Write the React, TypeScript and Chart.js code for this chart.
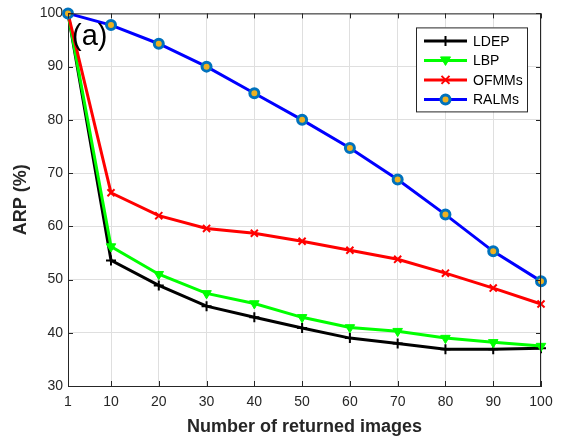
import React, { useEffect, useRef } from "react";
import { Chart, registerables } from "chart.js";

Chart.register(...registerables);

// Retrieval precision (ARP, %) against number of returned images
const returnedImages = [1, 10, 20, 30, 40, 50, 60, 70, 80, 90, 100];
const ldep = [100, 53.6, 48.9, 45.0, 42.9, 40.9, 39.0, 38.0, 36.9, 36.9, 37.1];
const lbp = [100, 56.2, 51.0, 47.4, 45.5, 42.9, 41.0, 40.3, 39.0, 38.2, 37.5];
const ofmms = [100, 66.3, 62.0, 59.6, 58.7, 57.2, 55.5, 53.8, 51.2, 48.4, 45.4];
const ralms = [100, 97.8, 94.3, 90.0, 85.0, 80.0, 74.7, 68.8, 62.2, 55.3, 49.7];
const yTicks = [30, 40, 50, 60, 70, 80, 90, 100];
const seriesNames = ["LDEP", "LBP", "OFMMs", "RALMs"];

const FONT = "'Liberation Sans', Arial, Helvetica, sans-serif";
const AXIS_COLOR = "#262626";

type MarkerKind = "plus" | "x" | "tri" | "circle";

interface SeriesStyle {
  line: string;
  marker: MarkerKind;
  fill: string;
  edge: string;
}

const styles: SeriesStyle[] = [
  { line: "#000000", marker: "plus", fill: "#000000", edge: "#000000" },
  { line: "#00ff00", marker: "tri", fill: "#00ff00", edge: "#00ff00" },
  { line: "#ff0000", marker: "x", fill: "#ff0000", edge: "#ff0000" },
  { line: "#0000ff", marker: "circle", fill: "#EDB120", edge: "#0072BD" },
];

function drawMarker(ctx: CanvasRenderingContext2D, kind: MarkerKind, x: number, y: number, s: SeriesStyle) {
  ctx.save();
  ctx.strokeStyle = s.edge;
  ctx.fillStyle = s.fill;
  if (kind === "plus") {
    ctx.lineWidth = 2;
    ctx.beginPath();
    ctx.moveTo(x - 5, y);
    ctx.lineTo(x + 5, y);
    ctx.moveTo(x, y - 5);
    ctx.lineTo(x, y + 5);
    ctx.stroke();
  } else if (kind === "x") {
    ctx.lineWidth = 2;
    ctx.beginPath();
    ctx.moveTo(x - 4, y - 4);
    ctx.lineTo(x + 4, y + 4);
    ctx.moveTo(x - 4, y + 4);
    ctx.lineTo(x + 4, y - 4);
    ctx.stroke();
  } else if (kind === "tri") {
    ctx.lineWidth = 1;
    ctx.beginPath();
    ctx.moveTo(x - 5, y - 3.5);
    ctx.lineTo(x + 5, y - 3.5);
    ctx.lineTo(x, y + 5);
    ctx.closePath();
    ctx.fill();
    ctx.stroke();
  } else {
    ctx.lineWidth = 3;
    ctx.beginPath();
    ctx.arc(x, y, 4.5, 0, Math.PI * 2);
    ctx.fill();
    ctx.stroke();
  }
  ctx.restore();
}

const framePlugin = {
  id: "frameAndLegend",
  afterDraw(chart: any) {
    const { ctx, chartArea } = chart;
    const { left, right, top, bottom } = chartArea;
    const xs = chart.scales.x;
    const ys = chart.scales.y;

    ctx.save();
    // box outline and inward tick marks
    ctx.strokeStyle = AXIS_COLOR;
    ctx.lineWidth = 1;
    ctx.beginPath();
    ctx.moveTo(left, top + 0.5);
    ctx.lineTo(right, top + 0.5);
    ctx.moveTo(right - 0.5, top);
    ctx.lineTo(right - 0.5, bottom);
    for (const v of returnedImages) {
      const px = Math.round(xs.getPixelForValue(v)) + 0.5;
      ctx.moveTo(px, bottom);
      ctx.lineTo(px, bottom - 5);
      ctx.moveTo(px, top);
      ctx.lineTo(px, top + 5);
    }
    for (const v of yTicks) {
      const py = Math.round(ys.getPixelForValue(v)) + 0.5;
      ctx.moveTo(left, py);
      ctx.lineTo(left + 5, py);
      ctx.moveTo(right, py);
      ctx.lineTo(right - 5, py);
    }
    ctx.stroke();

    // panel label
    ctx.fillStyle = "#000000";
    ctx.font = `29px ${FONT}`;
    ctx.textBaseline = "alphabetic";
    ctx.textAlign = "left";
    ctx.fillText("(a)", left + 4, top + 32);

    // legend box
    const bx = right - 125;
    const by = top + 14;
    const bw = 111;
    const bh = 84;
    ctx.fillStyle = "#ffffff";
    ctx.fillRect(bx, by, bw, bh);
    ctx.strokeStyle = AXIS_COLOR;
    ctx.lineWidth = 1;
    ctx.strokeRect(bx + 0.5, by + 0.5, bw, bh);

    ctx.font = `14px ${FONT}`;
    ctx.textBaseline = "middle";
    seriesNames.forEach((name, i) => {
      const s = styles[i];
      const ry = by + 13.5 + i * 19.5;
      ctx.strokeStyle = s.line;
      ctx.lineWidth = 3;
      ctx.beginPath();
      ctx.moveTo(bx + 8, ry);
      ctx.lineTo(bx + 51, ry);
      ctx.stroke();
      drawMarker(ctx, s.marker, bx + 29.5, ry, s);
      ctx.fillStyle = "#000000";
      ctx.fillText(name, bx + 57, ry + 1);
    });
    ctx.restore();
  },
};

export default function App() {
  const canvasRef = useRef<HTMLCanvasElement | null>(null);

  useEffect(() => {
    if (!canvasRef.current) return;
    const seriesValues = [ldep, lbp, ofmms, ralms];
    const pointStyles = ["cross", "triangle", "crossRot", "circle"];

    const datasets = seriesValues.map((vals, i) => {
      const s = styles[i];
      const isCircle = s.marker === "circle";
      return {
        label: seriesNames[i],
        data: returnedImages.map((x, k) => ({ x, y: vals[k] })),
        borderColor: s.line,
        borderWidth: 3,
        backgroundColor: s.fill,
        pointStyle: pointStyles[i],
        pointRadius: isCircle ? 4.5 : s.marker === "tri" ? 5.5 : 5,
        pointRotation: s.marker === "tri" ? 180 : 0,
        pointBorderColor: s.edge,
        pointBackgroundColor: s.fill,
        pointBorderWidth: isCircle ? 3 : s.marker === "tri" ? 1 : 2,
        tension: 0,
        order: 3 - i,
        clip: false as any,
      };
    });

    const chart = new Chart(canvasRef.current, {
      type: "line",
      data: { datasets },
      plugins: [framePlugin],
      options: {
        animation: false,
        responsive: false,
        devicePixelRatio: 1,
        layout: { padding: { left: 0, right: 21, top: 12, bottom: 0 } },
        plugins: { legend: { display: false }, tooltip: { enabled: false } },
        scales: {
          x: {
            type: "linear",
            min: 1,
            max: 100,
            afterBuildTicks: (scale: any) => {
              scale.ticks = returnedImages.map((v) => ({ value: v }));
            },
            afterFit: (scale: any) => {
              scale.height = 54;
            },
            grid: { color: "#dfdfdf", drawTicks: false },
            border: { display: true, color: AXIS_COLOR, width: 1 },
            ticks: {
              autoSkip: false,
              maxRotation: 0,
              padding: 8,
              color: AXIS_COLOR,
              font: { family: FONT, size: 14 },
            },
            title: {
              display: true,
              text: "Number of returned images",
              color: AXIS_COLOR,
              font: { family: FONT, size: 18, weight: "bold" },
              padding: { top: 0, bottom: 2 },
            },
          },
          y: {
            type: "linear",
            min: 30,
            max: 100,
            afterBuildTicks: (scale: any) => {
              scale.ticks = yTicks.map((v) => ({ value: v }));
            },
            afterFit: (scale: any) => {
              scale.width = 68;
            },
            grid: { color: "#dfdfdf", drawTicks: false },
            border: { display: true, color: AXIS_COLOR, width: 1 },
            ticks: {
              padding: 5,
              color: AXIS_COLOR,
              font: { family: FONT, size: 14 },
            },
            title: {
              display: true,
              text: "ARP (%)",
              color: AXIS_COLOR,
              font: { family: FONT, size: 18, weight: "bold" },
              padding: { top: 10, bottom: 0 },
            },
          },
        },
      },
    } as any);

    return () => chart.destroy();
  }, []);

  return (
    <div style={{ position: "absolute", left: 0, top: 0, width: 562, height: 440, background: "#ffffff" }}>
      <canvas ref={canvasRef} width={562} height={440} />
    </div>
  );
}
